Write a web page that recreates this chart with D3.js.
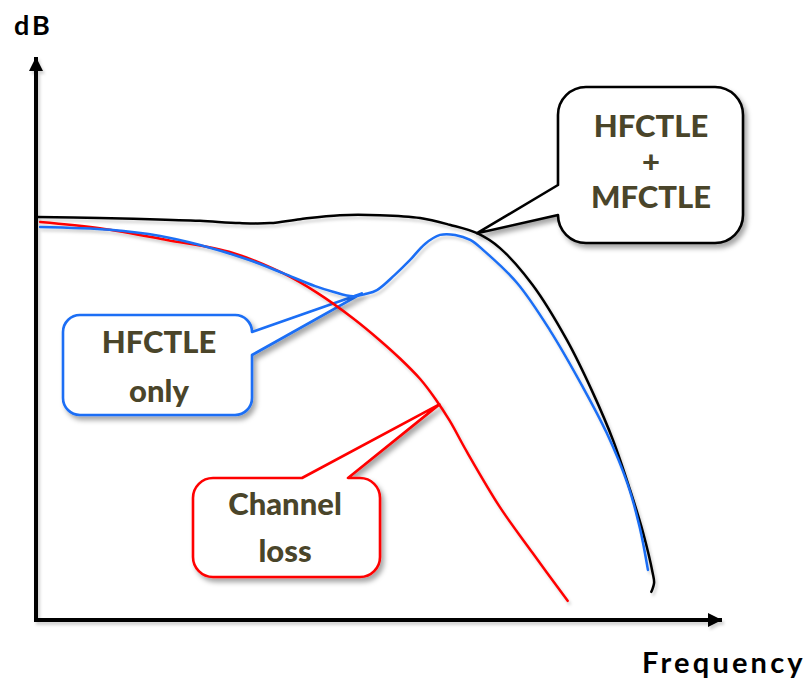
<!DOCTYPE html>
<html>
<head>
<meta charset="utf-8">
<script src="https://cdnjs.cloudflare.com/ajax/libs/d3/7.8.5/d3.min.js"></script>
<style>
  html, body { margin: 0; padding: 0; background: #fff; }
  svg { display: block; }
  .lbl { font-family: Lato, "Open Sans", sans-serif; font-weight: bold; }
  .box-text { font-weight: 900; }
</style>
</head>
<body>
<div id="chart"></div>
<script>
    /** Curve samples: [relative frequency, relative gain] **/
    var combined = [[0.2,71.6],[9.3,71.4],[16.6,71.2],[23.9,70.9],[29.7,70.5],[34.1,70.5],[38.5,71.2],[44.3,71.9],
        [50.1,71.9],[56.0,71.4],[60.3,70.2],[64.3,68.7],[67.6,66.1],[72.4,59.5],[77.4,49.7],[81.2,40.3],
        [84.1,32.0],[86.6,23.1],[88.5,15.5],[89.9,8.3],[90.1,6.6],[89.7,5.0]];

    var hfOnly = [[0.6,69.8],[10.8,69.3],[18.1,68.2],[23.9,66.6],[31.2,63.9],[36.0,61.6],[40.7,59.3],[43.3,58.3],
        [46.2,57.5],[48.0,57.9],[49.7,58.6],[52.3,61.3],[54.5,63.9],[56.7,66.8],[58.9,68.4],[61.1,68.4],
        [63.3,67.5],[65.2,65.7],[70.1,59.9],[74.9,51.5],[79.7,41.4],[83.2,33.2],[86.2,24.3],[88.0,16.5],[89.2,8.9]];

    var channelLoss = [[0.6,70.7],[9.3,69.6],[19.1,67.5],[28.7,65.2],[36.0,61.6],[41.0,58.1],[46.2,53.6],[50.1,49.7],
        [53.1,46.4],[56.0,42.8],[58.2,39.3],[60.3,35.4],[62.8,29.9],[67.6,20.1],[72.4,11.9],[77.5,3.4]];

    /** Texts **/
    var axisTitles = ["dB", "Frequency"];
    var comboText = ["HFCTLE", "+", "MFCTLE"];
    var hfText = ["HFCTLE", "only"];
    var lossText = ["Channel", "loss"];

    var width = 811, height = 683;

    var x = d3.scaleLinear().domain([0, 100]).range([36, 722]);
    var y = d3.scaleLinear().domain([0, 100]).range([620, 57]);

    var svg = d3.select("#chart").append("svg")
        .attr("width", width)
        .attr("height", height);

    var defs = svg.append("defs");

    var shadow = defs.append("filter").attr("id", "shadow")
        .attr("x", "-20%").attr("y", "-20%").attr("width", "140%").attr("height", "140%");
    shadow.append("feDropShadow")
        .attr("dx", 3).attr("dy", 4).attr("stdDeviation", 2.5)
        .attr("flood-color", "#000").attr("flood-opacity", 0.35);

    var lineShadow = defs.append("filter").attr("id", "lineShadow")
        .attr("x", "-10%").attr("y", "-10%").attr("width", "120%").attr("height", "120%");
    lineShadow.append("feDropShadow")
        .attr("dx", 2).attr("dy", 3).attr("stdDeviation", 1.5)
        .attr("flood-color", "#000").attr("flood-opacity", 0.18);

    defs.append("marker")
        .attr("id", "arrow")
        .attr("markerUnits", "userSpaceOnUse")
        .attr("markerWidth", 16).attr("markerHeight", 16)
        .attr("refX", 14).attr("refY", 7.5)
        .attr("orient", "auto")
        .append("path")
        .attr("d", "M0,0.5L14,7.5L0,14.5Z")
        .attr("fill", "#000");

    /** Axes: plain arrows, no ticks **/
    var axisContainer = svg.append("g").attr("class", "axisContainer").attr("filter", "url(#lineShadow)");

    axisContainer.append("path")
        .attr("d", "M" + x(0) + "," + y(0) + "L" + x(0) + "," + y.range()[1])
        .attr("stroke", "#000").attr("stroke-width", 4)
        .attr("marker-end", "url(#arrow)");

    axisContainer.append("path")
        .attr("d", "M" + (x(0) - 2) + "," + y(0) + "L" + x.range()[1] + "," + y(0))
        .attr("stroke", "#000").attr("stroke-width", 4)
        .attr("marker-end", "url(#arrow)");

    svg.append("text").attr("class", "lbl")
        .attr("x", 14).attr("y", 35)
        .attr("font-size", 27).attr("letter-spacing", 3)
        .attr("fill", "#000")
        .text(axisTitles[0]);

    svg.append("text").attr("class", "lbl")
        .attr("x", 642).attr("y", 673)
        .attr("font-size", 29).attr("letter-spacing", 3.2)
        .attr("fill", "#000")
        .text(axisTitles[1]);

    /** Callouts: rounded box with a wedge pointing at a spot on a curve **/
    function calloutPath(b, side, s0, s1, tip) {
        var r = b.r, p = "";
        p += "M" + (b.x0 + r) + "," + b.y0;
        if (side === "top") p += "L" + s0 + "," + b.y0 + "L" + tip[0] + "," + tip[1] + "L" + s1 + "," + b.y0;
        p += "L" + (b.x1 - r) + "," + b.y0;
        p += "A" + r + "," + r + " 0 0 1 " + b.x1 + "," + (b.y0 + r);
        if (side === "right") p += "L" + b.x1 + "," + s0 + "L" + tip[0] + "," + tip[1] + "L" + b.x1 + "," + s1;
        p += "L" + b.x1 + "," + (b.y1 - r);
        p += "A" + r + "," + r + " 0 0 1 " + (b.x1 - r) + "," + b.y1;
        p += "L" + (b.x0 + r) + "," + b.y1;
        p += "A" + r + "," + r + " 0 0 1 " + b.x0 + "," + (b.y1 - r);
        if (side === "left") p += "L" + b.x0 + "," + s1 + "L" + tip[0] + "," + tip[1] + "L" + b.x0 + "," + s0;
        p += "L" + b.x0 + "," + (b.y0 + r);
        p += "A" + r + "," + r + " 0 0 1 " + (b.x0 + r) + "," + b.y0 + "Z";
        return p;
    }

    var callouts = [
        {box: {x0: 558, y0: 87, x1: 743, y1: 243, r: 28}, side: "left", s0: 185, s1: 215,
         tip: [x(combined[11][0]), y(combined[11][1])], color: "#000", lines: comboText, cx: 651, base: [137, 173, 208]},
        {box: {x0: 63, y0: 315, x1: 252, y1: 415, r: 17}, side: "right", s0: 332, s1: 355,
         tip: [x(47.5), y(58.0)], color: "#1a6ef5", lines: hfText, cx: 159, base: [353, 402]},
        {box: {x0: 193, y0: 478, x1: 380, y1: 577, r: 20}, side: "top", s0: 302, s1: 348,
         tip: [x(58.8), y(38.3)], color: "#ff0000", lines: lossText, cx: 285, base: [515, 562]}
    ];

    var calloutContainer = svg.append("g").attr("class", "calloutContainer");

    callouts.forEach(function (c) {
        var g = calloutContainer.append("g");
        g.append("path")
            .attr("d", calloutPath(c.box, c.side, c.s0, c.s1, c.tip))
            .attr("fill", "#fff")
            .attr("stroke", c.color)
            .attr("stroke-width", 2.6)
            .attr("stroke-linejoin", "round")
            .attr("filter", "url(#shadow)");
        g.selectAll("text")
            .data(c.lines)
            .enter().append("text")
            .attr("class", "lbl box-text")
            .attr("x", c.cx)
            .attr("y", function (d, i) { return c.base[i]; })
            .attr("text-anchor", "middle")
            .attr("font-size", 31)
            .attr("fill", "#4a452a")
            .text(function (d) { return d; });
    });

    /** Curves **/
    var line = d3.line()
        .x(function (d) { return x(d[0]); })
        .y(function (d) { return y(d[1]); })
        .curve(d3.curveCatmullRom.alpha(0.5));

    var curveContainer = svg.append("g").attr("class", "curveContainer").attr("filter", "url(#lineShadow)");

    curveContainer.selectAll(".curve")
        .data([
            {pts: channelLoss, color: "#ff0000"},
            {pts: combined, color: "#000"},
            {pts: hfOnly, color: "#1a6ef5"}
        ])
        .enter().append("path")
        .attr("class", "curve")
        .attr("d", function (d) { return line(d.pts); })
        .attr("fill", "none")
        .attr("stroke", function (d) { return d.color; })
        .attr("stroke-width", 2.5)
        .attr("stroke-linecap", "round");
</script>
</body>
</html>
